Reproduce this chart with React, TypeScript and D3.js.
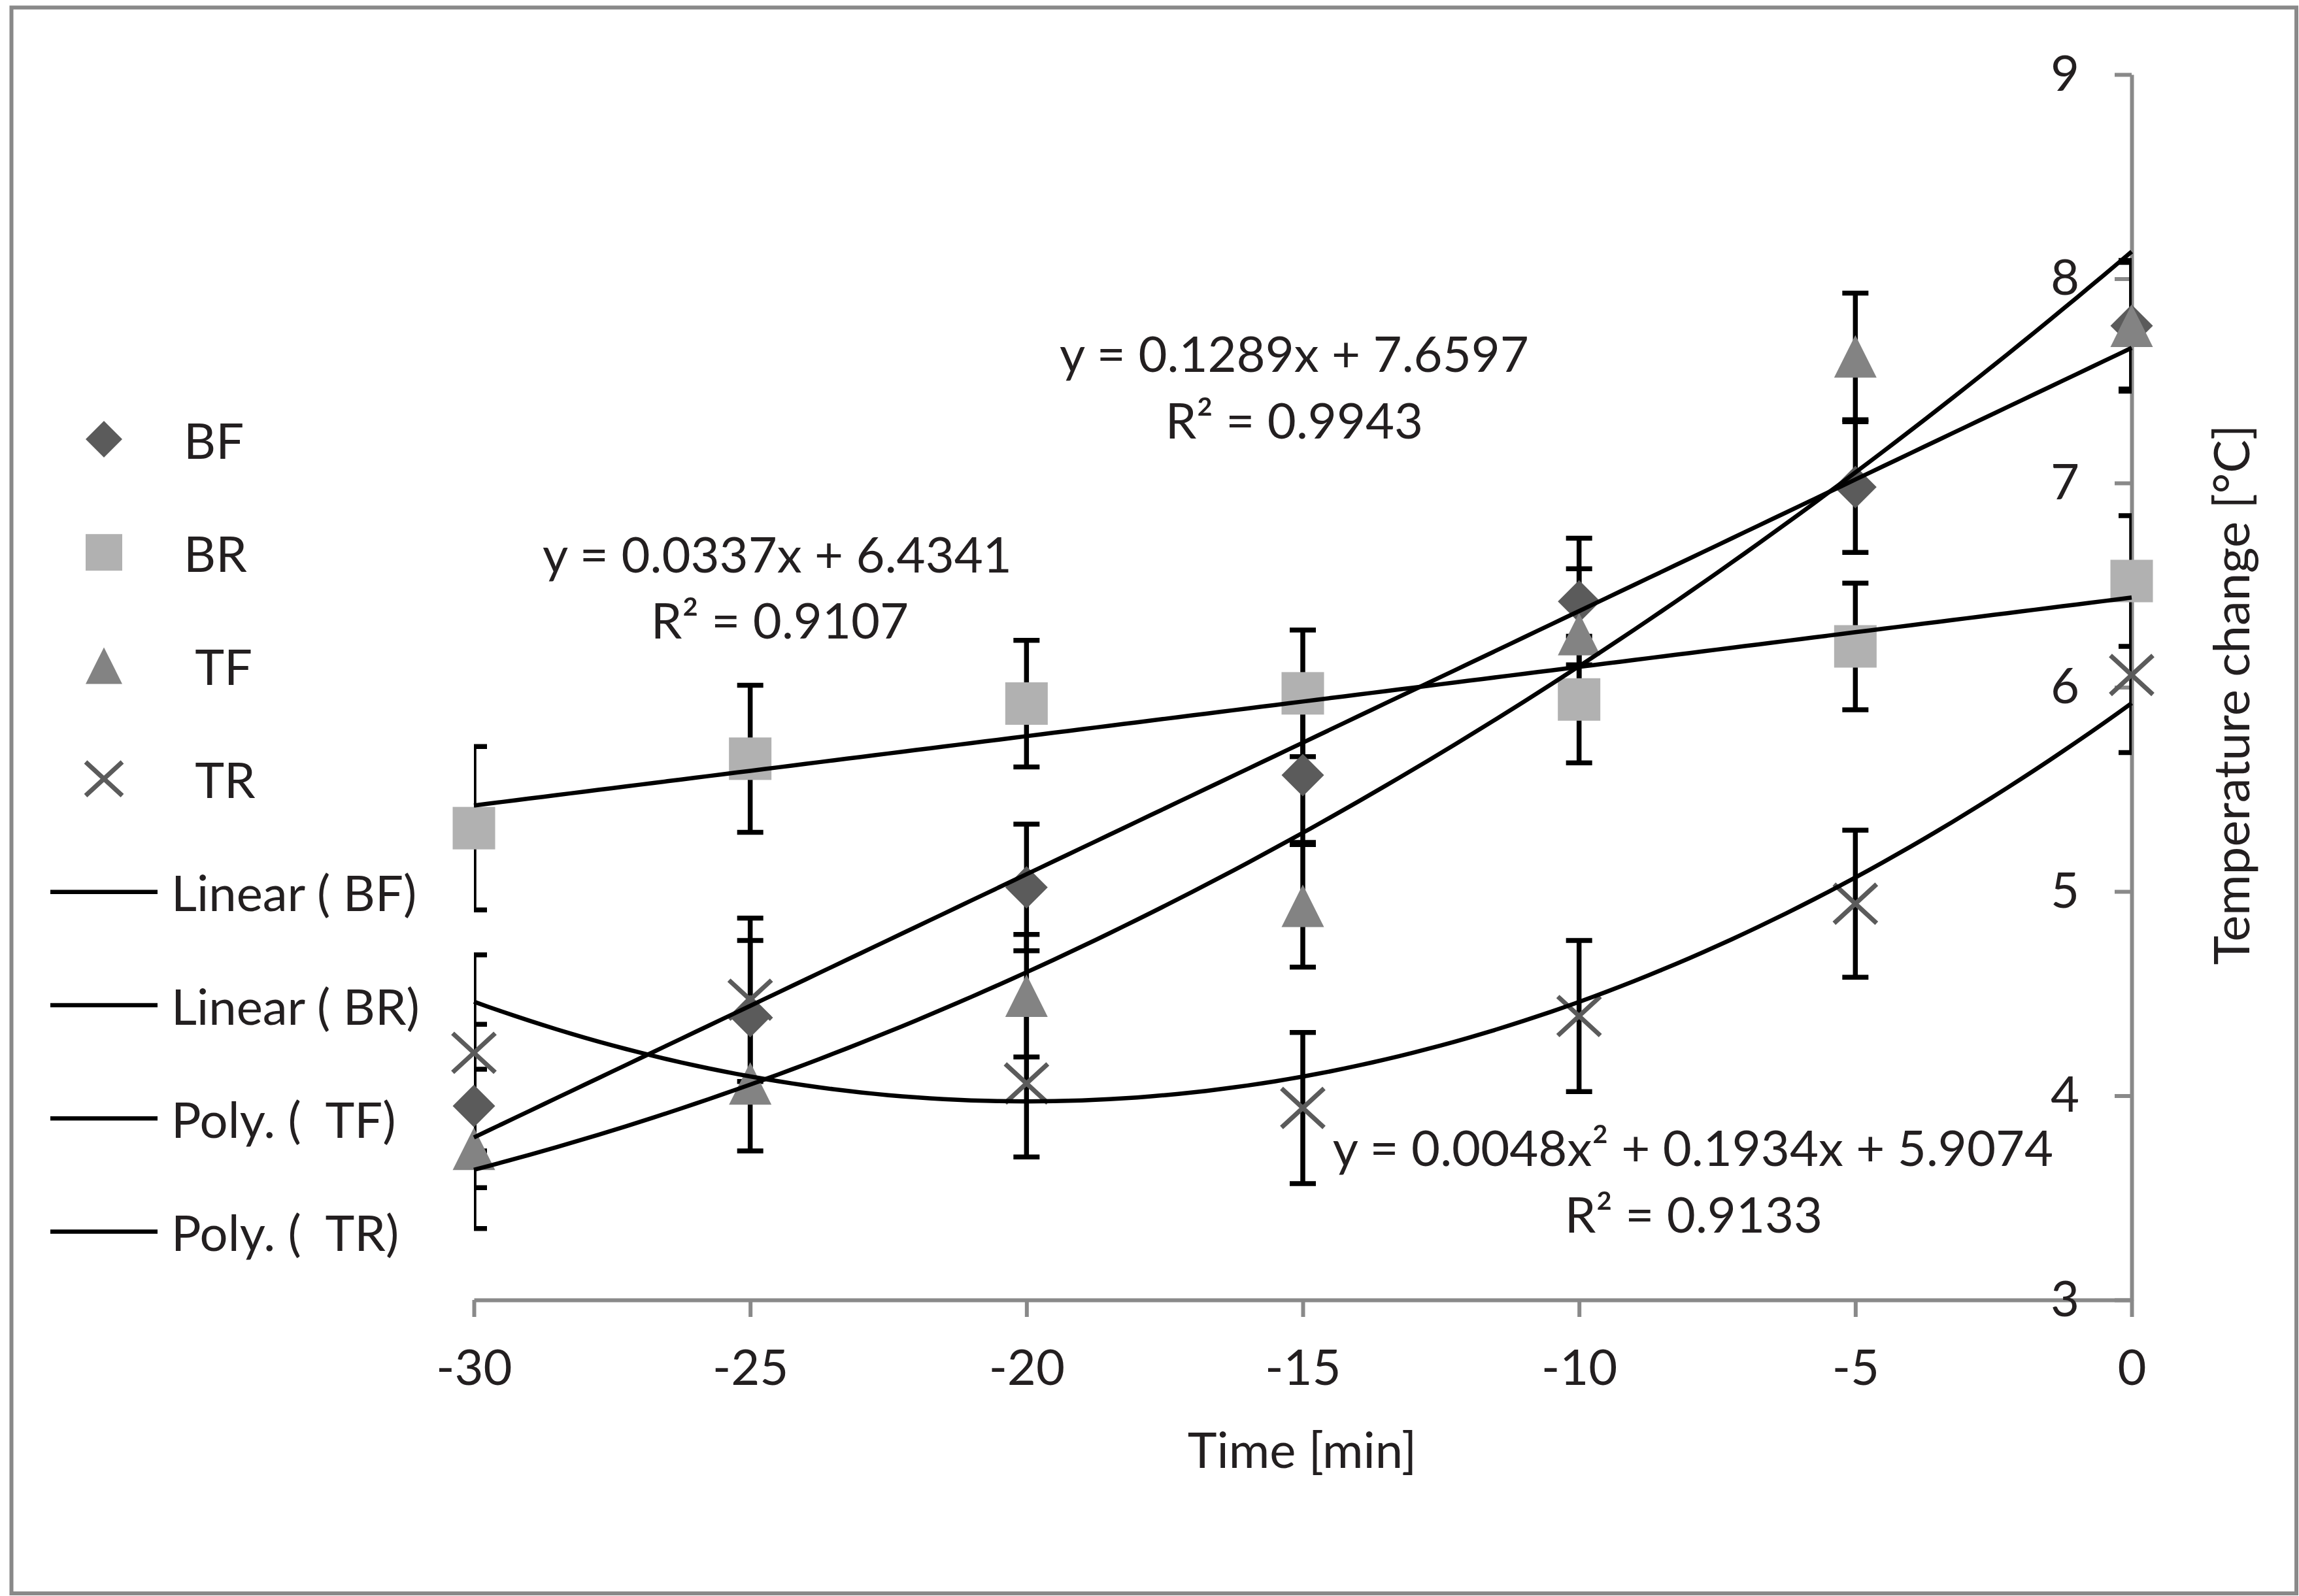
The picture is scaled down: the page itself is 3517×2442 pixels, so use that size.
import React, { useEffect, useRef } from 'react'
import * as d3 from 'd3'

// time points [min]
const times = [-30, -25, -20, -15, -10, -5, 0]

// series values, with +/- error
const bfValues = [3.95, 4.39, 5.02, 5.57, 6.42, 6.98, 7.77]
const bfErrors = [0.4, 0.37, 0.31, 0.33, 0.31, 0.32, 0.32]
const brValues = [5.31, 5.65, 5.92, 5.97, 5.94, 6.2, 6.52]
const brErrors = [0.4, 0.36, 0.31, 0.31, 0.31, 0.31, 0.32]
const tfValues = [3.74, 4.06, 4.49, 4.93, 6.26, 7.62, 7.77]
const tfErrors = [0.39, 0.33, 0.3, 0.3, 0.32, 0.31, 0.31]
const trValues = [4.21, 4.47, 4.06, 3.94, 4.39, 4.94, 6.06]
const trErrors = [0.48, 0.4, 0.36, 0.37, 0.37, 0.36, 0.38]

const xTicks = [-30, -25, -20, -15, -10, -5, 0]
const yTicks = [3, 4, 5, 6, 7, 8, 9]

const legendNames = ['BF', 'BR', ' TF', ' TR']
const trendNames = ['Linear ( BF)', 'Linear ( BR)', 'Poly. (  TF)', 'Poly. (  TR)']

const W = 3517
const H = 2442
const FONT = 'Lato, "Open Sans", sans-serif'
const TEXT = '#231f20'
const AXIS = '#898989'

type Marker = 'diamond' | 'square' | 'triangle' | 'cross'

const series = [
  { values: bfValues, errors: bfErrors, marker: 'diamond' as Marker, color: '#5b5b5b', degree: 1 },
  { values: brValues, errors: brErrors, marker: 'square' as Marker, color: '#b1b1b1', degree: 1 },
  { values: tfValues, errors: tfErrors, marker: 'triangle' as Marker, color: '#838383', degree: 2 },
  { values: trValues, errors: trErrors, marker: 'cross' as Marker, color: '#5b5b5b', degree: 2 },
]

// least squares polynomial fit, returns coefficients c0 + c1 x + c2 x^2
function polyFit(xs: number[], ys: number[], degree: number): number[] {
  const n = degree + 1
  const A: number[][] = []
  for (let r = 0; r < n; r++) {
    const row: number[] = []
    for (let c = 0; c < n; c++) row.push(d3.sum(xs, (x) => Math.pow(x, r + c)))
    row.push(d3.sum(xs, (x, i) => Math.pow(x, r) * ys[i]))
    A.push(row)
  }
  for (let i = 0; i < n; i++) {
    for (let k = i + 1; k < n; k++) {
      const f = A[k][i] / A[i][i]
      for (let j = i; j <= n; j++) A[k][j] -= f * A[i][j]
    }
  }
  const coef = new Array(n).fill(0)
  for (let i = n - 1; i >= 0; i--) {
    let s = A[i][n]
    for (let j = i + 1; j < n; j++) s -= A[i][j] * coef[j]
    coef[i] = s / A[i][i]
  }
  return coef
}

function drawMarker(g: d3.Selection<SVGGElement, unknown, null, undefined>, type: Marker, color: string, size: number) {
  const h = size / 2
  if (type === 'diamond') {
    g.append('path').attr('d', `M0,${-h}L${h},0L0,${h}L${-h},0Z`).attr('fill', color)
  } else if (type === 'square') {
    g.append('rect').attr('x', -h).attr('y', -h).attr('width', size).attr('height', size).attr('fill', color)
  } else if (type === 'triangle') {
    g.append('path').attr('d', `M0,${-h}L${h},${h}L${-h},${h}Z`).attr('fill', color)
  } else {
    g.append('path')
      .attr('d', `M${-h},${-h * 0.92}L${h},${h * 0.92}M${h},${-h * 0.92}L${-h},${h * 0.92}`)
      .attr('stroke', color)
      .attr('stroke-width', 7)
      .attr('fill', 'none')
  }
}

const App: React.FC = () => {
  const ref = useRef<SVGSVGElement>(null)

  useEffect(() => {
    const svg = d3.select(ref.current)
    svg.selectAll('*').remove()

    const x = d3.scaleLinear().domain([-30, 0]).range([725, 3261])
    const y = d3.scaleLinear().domain([3, 9]).range([1989, 114])

    svg
      .append('rect')
      .attr('x', 17.5)
      .attr('y', 11.5)
      .attr('width', 3495.5)
      .attr('height', 2426.5)
      .attr('fill', 'white')
      .attr('stroke', AXIS)
      .attr('stroke-width', 6)

    svg
      .append('clipPath')
      .attr('id', 'plot-clip')
      .append('rect')
      .attr('x', x(-30))
      .attr('y', 0)
      .attr('width', x(0) - x(-30))
      .attr('height', H)

    // axes
    const xAxis = svg
      .append('g')
      .attr('transform', `translate(0,${y(3)})`)
      .call(
        d3
          .axisBottom(x)
          .tickValues(xTicks)
          .tickFormat((d) => String(d))
          .tickSize(26)
          .tickSizeOuter(0)
          .tickPadding(50)
      )
    const yAxis = svg
      .append('g')
      .attr('transform', `translate(${x(0)},0)`)
      .call(
        d3
          .axisLeft(y)
          .tickValues(yTicks)
          .tickFormat((d) => String(d))
          .tickSize(26)
          .tickSizeOuter(0)
          .tickPadding(54)
      )
    ;[xAxis, yAxis].forEach((a) => {
      a.select('.domain').attr('stroke', AXIS).attr('stroke-width', 6)
      a.selectAll('.tick line').attr('stroke', AXIS).attr('stroke-width', 6)
      a.selectAll('.tick text').attr('fill', TEXT).style('font-family', FONT).style('font-size', '76px')
    })

    // error bars
    const errG = svg.append('g').attr('clip-path', 'url(#plot-clip)')
    series.forEach((s) => {
      s.values.forEach((v, i) => {
        const cx = x(times[i])
        const top = y(v + s.errors[i])
        const bot = y(v - s.errors[i])
        errG
          .append('path')
          .attr('d', `M${cx},${top}L${cx},${bot}M${cx - 20},${top}L${cx + 20},${top}M${cx - 20},${bot}L${cx + 20},${bot}`)
          .attr('stroke', '#000')
          .attr('stroke-width', 7.5)
          .attr('fill', 'none')
      })
    })

    // markers
    series.forEach((s) => {
      s.values.forEach((v, i) => {
        const g = svg.append('g').attr('transform', `translate(${x(times[i])},${y(v)})`)
        drawMarker(g, s.marker, s.color, 65)
      })
    })

    // trend lines
    const samples = d3.range(-30, 0.001, 0.25)
    const line = d3
      .line<number[]>()
      .x((d) => x(d[0]))
      .y((d) => y(d[1]))
    series.forEach((s) => {
      const c = polyFit(times, s.values, s.degree)
      const pts = samples.map((t) => [t, c.reduce((acc, k, p) => acc + k * Math.pow(t, p), 0)])
      svg
        .append('path')
        .attr('d', line(pts))
        .attr('stroke', '#000')
        .attr('stroke-width', 6.5)
        .attr('fill', 'none')
    })

    const label = (tx: number, ty: number, txt: string, anchor = 'middle') =>
      svg
        .append('text')
        .attr('x', tx)
        .attr('y', ty)
        .attr('text-anchor', anchor)
        .attr('fill', TEXT)
        .style('font-family', FONT)
        .style('font-size', '76px')
        .style('white-space', 'pre')
        .text(txt)

    // trend equations
    label(1980, 569, 'y = 0.1289x + 7.6597')
    label(1980, 671, 'R² = 0.9943')
    label(1189, 876, 'y = 0.0337x + 6.4341')
    label(1193, 977, 'R² = 0.9107')
    label(2590, 1784, 'y = 0.0048x² + 0.1934x + 5.9074')
    label(2591, 1886, 'R² = 0.9133')

    // axis titles
    label(1992, 2246, 'Time [min]')
    label(0, 0, 'Temperature change [°C]').attr('transform', 'translate(3441,1063) rotate(-90)')

    // legend
    const rowY = (i: number) => 672 + i * 173.2
    series.forEach((s, i) => {
      const g = svg.append('g').attr('transform', `translate(159,${rowY(i)})`)
      drawMarker(g, s.marker, s.color, 56)
      label(281, rowY(i), legendNames[i], 'start').attr('dominant-baseline', 'central')
    })
    trendNames.forEach((n, i) => {
      const ly = rowY(i + 4)
      svg
        .append('line')
        .attr('x1', 77)
        .attr('x2', 241)
        .attr('y1', ly)
        .attr('y2', ly)
        .attr('stroke', '#000')
        .attr('stroke-width', 6.5)
      label(262, ly, n, 'start').attr('dominant-baseline', 'central')
    })
  }, [])

  return (
    <svg
      ref={ref}
      width={W}
      height={H}
      style={{ position: 'absolute', left: 0, top: 0, display: 'block', background: 'white' }}
    />
  )
}

export default App
